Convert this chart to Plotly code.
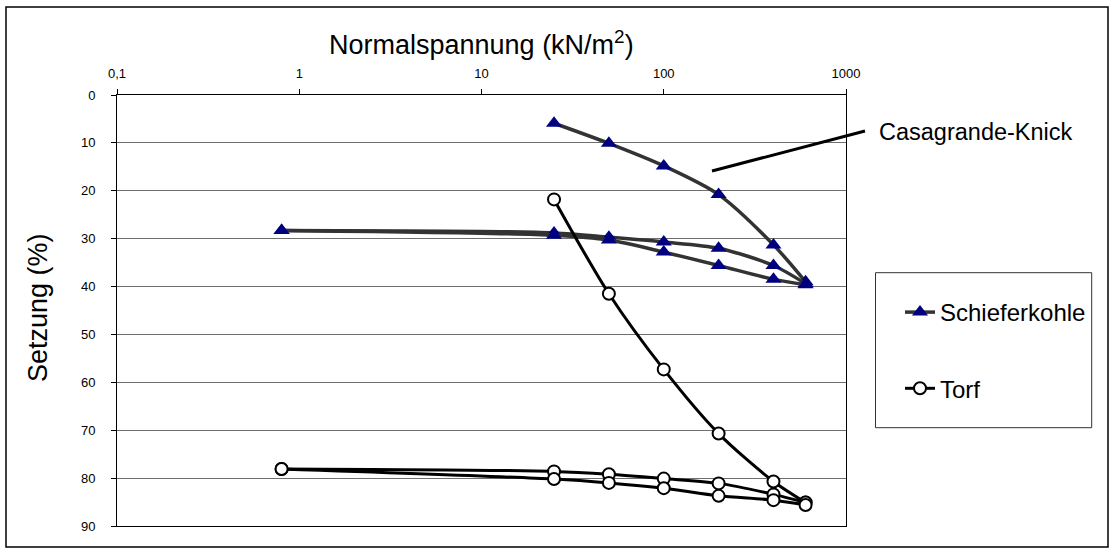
import plotly.graph_objects as go

# ---------------- data ----------------
stress_loop = [0.8, 25, 50, 100, 200, 400, 600]
stress_virgin = [25, 50, 100, 200, 400, 600]

schiefer_upper = [28.3, 28.8, 29.7, 30.7, 32.0, 35.6, 39.4]
schiefer_lower = [28.3, 29.3, 30.3, 32.8, 35.6, 38.5, 39.6]
schiefer_virgin = [5.9, 10.1, 14.8, 20.8, 31.3, 39.0]

torf_upper = [78.1, 78.6, 79.2, 80.1, 81.1, 83.4, 85.1]
torf_lower = [78.1, 80.2, 81.0, 82.1, 83.7, 84.6, 85.6]
torf_virgin = [21.8, 41.5, 57.3, 70.7, 80.7, 85.1]

x_tickvals = [0.1, 1, 10, 100, 1000]
x_ticktext = ["0,1", "1", "10", "100", "1000"]
y_tickvals = [0, 10, 20, 30, 40, 50, 60, 70, 80, 90]

# ---------------- layout geometry ----------------
W, H = 1117, 552
L, R, T, B = 117, 271, 95, 26
PW = W - L - R
PH = H - T - B
BOTTOM = H - B


def xp(px):
    return (px - L) / PW


def yp(py):
    return (BOTTOM - py) / PH


FONT = "Liberation Sans, Arial, sans-serif"

sk_line = dict(color="#333333", width=3.5, shape="spline", smoothing=0.8)
sk_marker = dict(symbol="triangle-up", size=14, color="#000080",
                 line=dict(color="#000080", width=0))
tf_line = dict(color="#000000", width=3, shape="spline", smoothing=0.8)
tf_marker = dict(symbol="circle", size=12, color="#ffffff",
                 line=dict(color="#000000", width=2))

fig = go.Figure()

# Schieferkohle
fig.add_trace(go.Scatter(x=stress_virgin, y=schiefer_virgin, mode="lines+markers",
                         line=sk_line, marker=sk_marker, name="Schieferkohle",
                         legendgroup="S", showlegend=True))
fig.add_trace(go.Scatter(x=stress_loop, y=schiefer_upper, mode="lines+markers",
                         line=sk_line, marker=sk_marker, name="Schieferkohle",
                         legendgroup="S", showlegend=False))
fig.add_trace(go.Scatter(x=stress_loop, y=schiefer_lower, mode="lines+markers",
                         line=sk_line, marker=sk_marker, name="Schieferkohle",
                         legendgroup="S", showlegend=False))

# Torf
fig.add_trace(go.Scatter(x=stress_virgin, y=torf_virgin, mode="lines+markers",
                         line=tf_line, marker=tf_marker, name="Torf",
                         legendgroup="T", showlegend=True))
fig.add_trace(go.Scatter(x=stress_loop, y=torf_upper, mode="lines+markers",
                         line=tf_line, marker=tf_marker, name="Torf",
                         legendgroup="T", showlegend=False))
fig.add_trace(go.Scatter(x=stress_loop, y=torf_lower, mode="lines+markers",
                         line=tf_line, marker=tf_marker, name="Torf",
                         legendgroup="T", showlegend=False))

fig.update_layout(
    width=W, height=H,
    margin=dict(l=L, r=R, t=T, b=B, pad=0),
    paper_bgcolor="white", plot_bgcolor="white",
    font=dict(family=FONT, color="black", size=13),
    xaxis=dict(type="log", range=[-1, 3], side="top",
               tickvals=x_tickvals, ticktext=x_ticktext,
               showgrid=False, zeroline=False,
               showline=True, linecolor="black", linewidth=1, mirror=True,
               ticks="outside", ticklen=5, tickcolor="black",
               tickfont=dict(size=13), ticklabelstandoff=6),
    yaxis=dict(range=[90, 0], tickvals=y_tickvals,
               showgrid=True, gridcolor="#6e6e6e", gridwidth=1, zeroline=False,
               showline=True, linecolor="black", linewidth=1, mirror=True,
               ticks="outside", ticklen=5, tickcolor="black",
               tickfont=dict(size=13), ticklabelstandoff=13),
    legend=dict(x=xp(900), xanchor="left", y=yp(290), yanchor="top",
                bgcolor="rgba(0,0,0,0)", borderwidth=0,
                font=dict(size=24, family=FONT), tracegroupgap=42,
                traceorder="grouped"),
    showlegend=True,
)

# outer frame
fig.add_shape(type="rect", xref="paper", yref="paper",
              x0=xp(6), x1=xp(1108), y0=yp(547), y1=yp(7),
              line=dict(color="black", width=1.5), fillcolor="rgba(0,0,0,0)",
              layer="below")
# legend frame
fig.add_shape(type="rect", xref="paper", yref="paper",
              x0=xp(875.5), x1=xp(1091.7), y0=yp(427.7), y1=yp(272.7),
              line=dict(color="#333333", width=1), fillcolor="rgba(0,0,0,0)")
# Casagrande pointer line
fig.add_shape(type="line", xref="paper", yref="paper",
              x0=xp(712), y0=yp(171), x1=xp(865), y1=yp(131),
              line=dict(color="black", width=3))

fig.add_annotation(text="Casagrande-Knick", xref="paper", yref="paper",
                   x=xp(877), y=yp(132), xanchor="left", yanchor="middle",
                   showarrow=False, font=dict(size=23.5, family=FONT))
fig.add_annotation(text="Normalspannung (kN/m<sup>2</sup>)", xref="paper", yref="paper",
                   x=0.5, y=yp(43), xanchor="center", yanchor="middle",
                   showarrow=False, font=dict(size=27, family=FONT))
fig.add_annotation(text="Setzung (%)", xref="paper", yref="paper",
                   x=xp(38), y=yp(308), xanchor="center", yanchor="middle",
                   textangle=-90, showarrow=False, font=dict(size=27, family=FONT))

fig.write_html("out.html", config={"displayModeBar": False},
               post_script="document.body.style.margin='0';")
